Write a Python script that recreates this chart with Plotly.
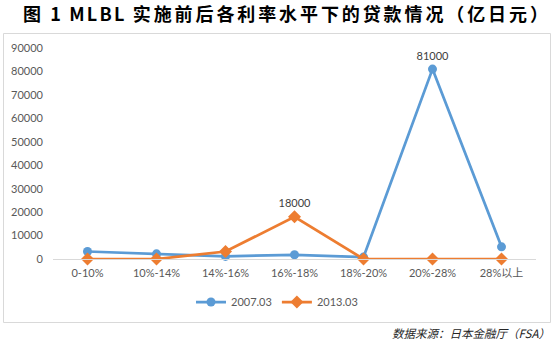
import plotly.graph_objects as go

categories = ["0-10%", "10%-14%", "14%-16%", "16%-18%", "18%-20%", "20%-28%", "28%以上"]
s2007 = [3200, 2200, 1100, 1800, 800, 81000, 5200]
s2013 = [0, 0, 3200, 18000, 0, 0, 0]
label2007 = [False, False, False, False, False, True, False]
label2013 = [False, False, False, True, False, False, False]
y_ticks = [0, 10000, 20000, 30000, 40000, 50000, 60000, 70000, 80000, 90000]

title_parts = ["图", " 1 MLBL ", "实施前后各利率水平下的贷款情况（亿日元）"]
source_text = "数据来源：日本金融厅（FSA）"

W, H = 554, 343
L, R, T, B = 53, 18, 48, 84
pw = W - L - R
ph = H - T - B


def px(x):
    return (x - L) / pw


def py(y):
    return (H - B - y) / ph


BLUE = "#5B9BD5"
ORANGE = "#ED7D31"
GRAY = "#595959"
FONT = "Lato, 'Noto Sans CJK SC', sans-serif"

fig = go.Figure()
fig.add_trace(go.Scatter(
    x=categories, y=s2007, name="2007.03", mode="lines+markers+text",
    line=dict(color=BLUE, width=2.75),
    marker=dict(symbol="circle", size=9, color=BLUE),
    text=[f"{v}" if f else "" for v, f in zip(s2007, label2007)],
    textposition="top center",
    textfont=dict(family=FONT, size=11, color="#404040"),
    cliponaxis=False,
))
fig.add_trace(go.Scatter(
    x=categories, y=s2013, name="2013.03", mode="lines+markers+text",
    line=dict(color=ORANGE, width=2.75),
    marker=dict(symbol="diamond", size=10, color=ORANGE),
    text=[f"{v}" if f else "" for v, f in zip(s2013, label2013)],
    textposition="top center",
    textfont=dict(family=FONT, size=11, color="#404040"),
    cliponaxis=False,
))

sp_cjk = '<span style="letter-spacing:2.9px">'
sp_lat = '<span style="letter-spacing:2.2px">'
title_html = (sp_cjk + title_parts[0] + "</span>" + sp_lat + title_parts[1] + "</span>"
              + sp_cjk + title_parts[2] + "</span>")

fig.update_layout(
    width=W, height=H,
    margin=dict(l=L, r=R, t=T, b=B, pad=0),
    paper_bgcolor="white", plot_bgcolor="white",
    font=dict(family=FONT, size=11, color=GRAY),
    showlegend=True,
    legend=dict(orientation="h", x=px(277), y=py(302), xanchor="center", yanchor="middle",
                font=dict(family=FONT, size=11, color=GRAY), itemwidth=30,
                bgcolor="rgba(0,0,0,0)"),
    xaxis=dict(type="category", range=[-0.5, 6.5], showgrid=False, zeroline=False,
               showline=True, linecolor="#D9D9D9", linewidth=1, ticks="",
               ticklabelstandoff=4,
               tickfont=dict(family=FONT, size=11, color=GRAY), fixedrange=True),
    yaxis=dict(range=[0, 90000], tickvals=y_ticks, ticktext=[str(v) for v in y_ticks],
               showgrid=False, zeroline=False,
               showline=False, ticks="", tickfont=dict(family=FONT, size=11, color=GRAY),
               ticklabelstandoff=9, fixedrange=True),
    shapes=[dict(type="rect", xref="paper", yref="paper",
                 x0=px(3.5), x1=px(550.5), y0=py(322.5), y1=py(33.5),
                 line=dict(color="#D9D9D9", width=1), fillcolor="rgba(0,0,0,0)", layer="below")],
    annotations=[
        dict(text=title_html,
             xref="paper", yref="paper", x=px(21), y=py(13), xanchor="left", yanchor="middle",
             showarrow=False,
             font=dict(family="'Noto Sans CJK SC', sans-serif", size=18, color="black", weight="bold")),
        dict(text="<i>" + source_text + "</i>",
             xref="paper", yref="paper", x=px(552), y=py(333), xanchor="right", yanchor="middle",
             showarrow=False,
             font=dict(family="'Noto Sans CJK SC', sans-serif", size=11.5, color="#262626")),
    ],
)

fig.write_html("out.html")
